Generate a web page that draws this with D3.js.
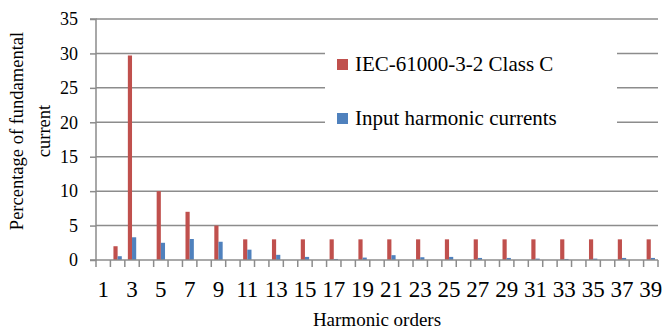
<!DOCTYPE html>
<html>
<head>
<meta charset="utf-8">
<script src="https://cdn.jsdelivr.net/npm/d3@7"></script>
<style>
  body { margin: 0; background: #fff; }
  text { font-family: "Liberation Serif", "Times New Roman", serif; fill: #000; }
</style>
</head>
<body>
<div id="chart"></div>
<script>
// harmonic orders 1..39
var orders = d3.range(1, 40);
var tickLabels = orders.filter(function(d) { return d % 2 === 1; });
var yTicks = [0, 5, 10, 15, 20, 25, 30, 35];
var seriesNames = ["IEC-61000-3-2 Class C", "Input harmonic currents"];

// limits (only order 2, 3 and the odd orders carry a value)
var iecLimit = [0, 2, 29.7, 0, 10, 0, 7, 0, 5, 0, 3, 0, 3, 0, 3, 0, 3, 0, 3, 0,
                3, 0, 3, 0, 3, 0, 3, 0, 3, 0, 3, 0, 3, 0, 3, 0, 3, 0, 3];
var inputCurrent = [0, 0.55, 3.3, 0, 2.5, 0, 3.05, 0, 2.65, 0, 1.5, 0, 0.75, 0, 0.45, 0, 0.15, 0, 0.35, 0,
                    0.7, 0, 0.4, 0, 0.45, 0, 0.3, 0, 0.3, 0, 0.2, 0, 0.15, 0, 0.2, 0, 0.3, 0, 0.3];
var colors = ["#C0504D", "#4F81BD"];

var margin = {top: 19, right: 7, bottom: 72, left: 96},
    width = 665 - margin.left - margin.right,
    height = 332 - margin.top - margin.bottom;

var svg = d3.select("#chart").append("svg")
    .attr("width", 665)
    .attr("height", 332)
  .append("g")
    .attr("transform", "translate(" + margin.left + "," + margin.top + ")");

var x = d3.scaleBand().domain(orders).range([0, width]).padding(0);
var bw = x.bandwidth();
var x1 = d3.scaleBand().domain([0, 1]).range([bw * 0.21, bw * 0.79]).padding(0);
var y = d3.scaleLinear().domain([0, 35]).range([height, 0]);

// gridlines
svg.append("g")
    .selectAll("line")
    .data(yTicks.slice(1))
    .enter().append("line")
    .attr("x1", 0).attr("x2", width)
    .attr("y1", function(d) { return y(d); })
    .attr("y2", function(d) { return y(d); })
    .attr("stroke", "#8c8c8c")
    .attr("stroke-width", 1.5);

// legend box hides the gridlines behind it
svg.append("rect")
    .attr("x", 229).attr("y", 14)
    .attr("width", 292).attr("height", 118)
    .attr("fill", "#fff");

// bars, skipping the empty orders
var rows = orders.map(function(o, i) {
  return {order: o, vals: [{k: 0, v: iecLimit[i]}, {k: 1, v: inputCurrent[i]}]};
});
var groups = svg.append("g").selectAll("g")
    .data(rows).enter().append("g")
    .attr("transform", function(d) { return "translate(" + x(d.order) + ",0)"; });

groups.selectAll("rect")
    .data(function(d) { return d.vals.filter(function(e) { return e.v > 0; }); })
    .enter().append("rect")
    .attr("x", function(d) { return x1(d.k); })
    .attr("width", x1.bandwidth())
    .attr("y", function(d) { return y(d.v); })
    .attr("height", function(d) { return height - y(d.v); })
    .attr("fill", function(d) { return colors[d.k]; });

// y axis
var yAxis = svg.append("g")
    .call(d3.axisLeft(y).tickValues(yTicks).tickSize(6).tickPadding(12).tickFormat(d3.format("d")));
yAxis.select(".domain").attr("stroke", "#8c8c8c").attr("stroke-width", 1.5)
    .attr("d", "M-6," + height + "H0V0H-6");
yAxis.selectAll(".tick line").attr("stroke", "#8c8c8c").attr("stroke-width", 1.5);
yAxis.selectAll("text").style("font-size", "18px")
    .style("font-family", "'Liberation Serif', 'Times New Roman', serif");

// x axis: line plus ticks at band edges
var xg = svg.append("g").attr("transform", "translate(0," + height + ")");
xg.append("line").attr("x1", 0).attr("x2", width)
    .attr("stroke", "#8c8c8c").attr("stroke-width", 1.5);
xg.selectAll(".edge")
    .data(orders.concat([40]))
    .enter().append("line")
    .attr("x1", function(d) { return d === 40 ? width : x(d); })
    .attr("x2", function(d) { return d === 40 ? width : x(d); })
    .attr("y1", 0).attr("y2", 7)
    .attr("stroke", "#8c8c8c").attr("stroke-width", 1.5);
xg.selectAll(".lbl")
    .data(tickLabels)
    .enter().append("text")
    .attr("x", function(d) { return x(d) + bw / 2; })
    .attr("y", 37)
    .attr("text-anchor", "middle")
    .style("font-size", "23px")
    .text(function(d) { return d; });

// axis titles
svg.append("text")
    .attr("x", width / 2).attr("y", height + 66)
    .attr("text-anchor", "middle")
    .style("font-size", "19px")
    .text("Harmonic orders");

var yt = svg.append("text")
    .attr("transform", "translate(-73," + (131 - margin.top) + ") rotate(-90)")
    .attr("text-anchor", "middle")
    .style("font-size", "18.5px");
yt.append("tspan").attr("x", 0).attr("y", 0).text("Percentage of fundamental");
yt.append("tspan").attr("x", 0).attr("y", 27).text("current");

// legend
var legend = svg.append("g").selectAll("g")
    .data(seriesNames).enter().append("g")
    .attr("transform", function(d, i) { return "translate(241," + (40 + i * 54) + ")"; });
legend.append("rect")
    .attr("x", 0).attr("y", 0)
    .attr("width", 11).attr("height", 11)
    .attr("fill", function(d, i) { return colors[i]; });
legend.append("text")
    .attr("x", 18).attr("y", 12)
    .style("font-size", "21px")
    .text(function(d) { return d; });
</script>
</body>
</html>
